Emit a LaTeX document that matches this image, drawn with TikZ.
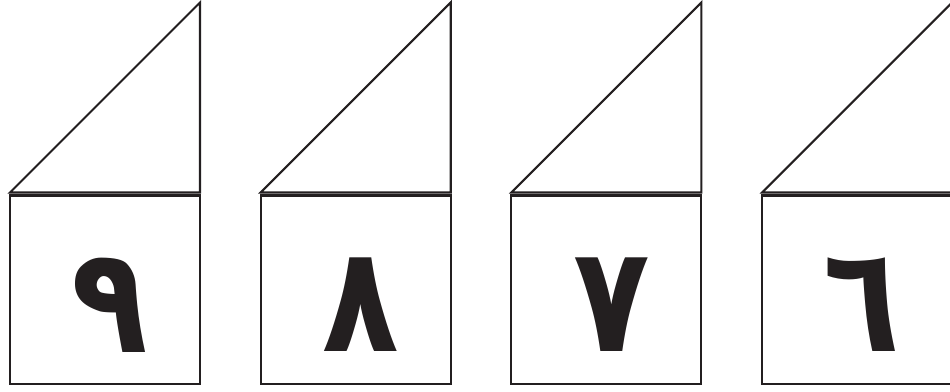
\documentclass[tikz,border=0pt]{standalone}
\usepackage{fontspec}
\newfontfamily\arabicfont[Script=Arabic]{DejaVu Sans}
\definecolor{ink}{HTML}{231F20}
\tikzset{
  edge/.style={ink,line width=1.2pt,line join=miter},
  digit/.style={ink,inner sep=0pt,font=\arabicfont\bfseries\fontsize{84}{90}\selectfont},
}

\begin{document}
\begin{tikzpicture}[x=0.02cm,y=-0.02cm]
\useasboundingbox (0,0) rectangle (950,392);

% ---------------------------------------------------------------- four cards
\foreach \i/\d in {0/٩,1/٨,2/٧,3/٦}{
  \pgfmathsetmacro{\xl}{10+250.7*\i}
  % roof
  \draw[edge] (\xl,192.5) -- (\xl+190,2.5) -- (\xl+190,192.5) -- cycle;
  % box
  \draw[edge] (\xl,195.5) rectangle (\xl+190,384);
  % number
  \node[digit,xscale=0.85] (n\i) at (\xl+100,305) {\d};
}

\end{tikzpicture}
\end{document}
